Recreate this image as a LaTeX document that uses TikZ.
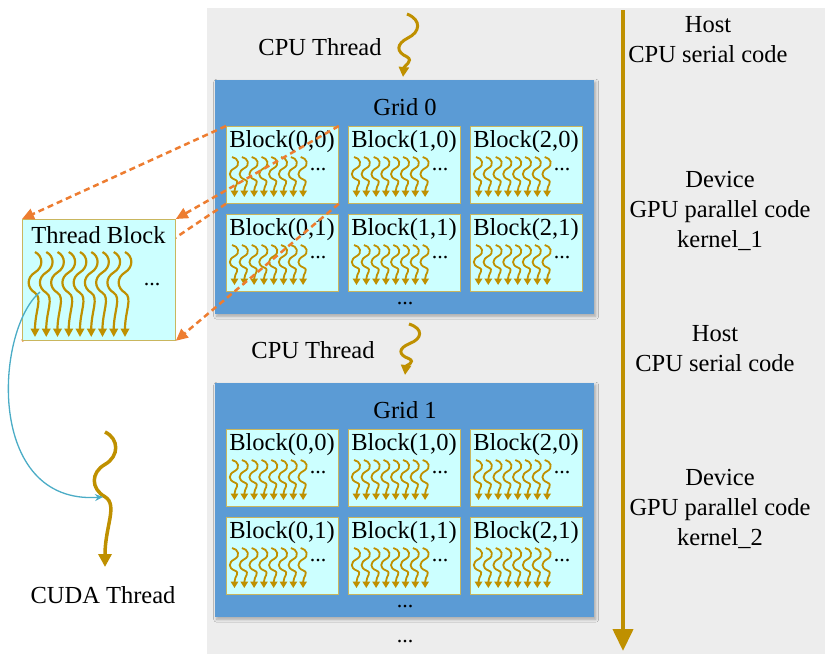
\documentclass[tikz,border=0pt]{standalone}
\usepackage{fontspec}
\setmainfont{Liberation Serif}
\usetikzlibrary{arrows.meta,shadows.blur}
\definecolor{bggray}{HTML}{EDEDED}
\definecolor{gridblue}{HTML}{5B9BD5}
\definecolor{cellcyan}{HTML}{CCFFFF}
\definecolor{cellborder}{HTML}{C9B65E}
\definecolor{threadgold}{RGB}{191,144,0}
\definecolor{orng}{HTML}{ED7D31}
\definecolor{curvecyan}{HTML}{4BACC6}
\newcommand\txtsize{\fontsize{24.5}{30}\selectfont}
% wavy thread: x, y (top), amplitude, height, line width, tip size
\newcommand\wthr[6]{%
  \begin{scope}[shift={(#1,#2)},xscale=#3,yscale=#4]
    \draw[threadgold,line width=#5pt,-{Triangle[length=#6pt,width=#6pt]}]
      (0,0) .. controls (1.3,0.05) and (1.3,0.18) .. (0,0.24)
            .. controls (-1.3,0.30) and (-1.3,0.42) .. (0,0.48)
            .. controls (1.2,0.54) and (0,0.7) .. (0,1);
  \end{scope}}
% small thread inside a block: x, y (top)
\newcommand\bthr[2]{%
  \begin{scope}[shift={(#1,#2)},xscale=4.8,yscale=40]
    \draw[threadgold,line width=1.8pt,-{Triangle[length=6.5pt,width=7.5pt]}]
      (-0.5,0) .. controls (0.8,0.03) and (1.3,0.2) .. (0,0.28)
            .. controls (-1.3,0.36) and (-1.3,0.5) .. (0,0.56)
            .. controls (1.3,0.62) and (0,0.7) .. (0,1);
  \end{scope}}
% CPU thread squiggle: x, y (top), height
\newcommand\cputhr[3]{%
  \begin{scope}[shift={(#1,#2)},xscale=10,yscale=#3]
    \draw[threadgold,line width=3pt,-{Triangle[length=10pt,width=10pt]}]
      (0,0) .. controls (1.5,0.095) and (1.3,0.29) .. (0.1,0.38)
            .. controls (-1.1,0.476) and (-1.1,0.603) .. (0,0.68)
            .. controls (0.7,0.745) and (-0.3,0.825) .. (-0.4,1);
  \end{scope}}
\tikzset{
  lbl/.style={font=\txtsize,inner sep=0pt,align=center},
  dots/.style={font=\fontsize{22}{22}\selectfont,inner sep=0pt},
  gridbox/.style={fill=gridblue,draw=none,minimum width=379pt,minimum height=234pt,inner sep=0pt,
    blur shadow={shadow xshift=1.5pt,shadow yshift=-2pt,shadow blur radius=3pt,shadow opacity=30}},
  cell/.style={fill=cellcyan,draw=cellborder,line width=0.8pt,minimum width=112pt,minimum height=77pt,inner sep=0pt},
  tbbox/.style={fill=cellcyan,draw=cellborder,line width=0.8pt,minimum width=153pt,minimum height=121pt,inner sep=0pt},
  odash/.style={orng,line width=2.5pt,dash pattern=on 6pt off 4pt},
  otip/.style={-{Triangle[length=12pt,width=11pt]}},
}
\begin{document}
\begin{tikzpicture}[x=1pt,y=-1pt]
\useasboundingbox (0,0) rectangle (825,654);
% background band
\fill[bggray] (207,8) rectangle (825,654);
% time arrow
\coordinate (ttop) at (623,10);
\coordinate (tbot) at (623,651);
\draw[threadgold,line width=4pt,-{Triangle[length=22pt,width=20pt]}] (ttop) -- (tbot);
% right labels
\node[lbl,anchor=north] (host1) at (708,16.3) {Host\\CPU serial code};
\node[lbl,anchor=north] (dev1) at (720,171.3) {Device\\GPU parallel code\\kernel\_1};
\node[lbl,anchor=north] (host2) at (715,325.3) {Host\\CPU serial code};
\node[lbl,anchor=north] (dev2) at (720,469.3) {Device\\GPU parallel code\\kernel\_2};
% CPU threads
\node[lbl,anchor=base] (cpu1) at (320,55) {CPU Thread};
\cputhr{407}{14}{63}
\node[lbl,anchor=base] (cpu2) at (313,358) {CPU Thread};
\cputhr{409}{324}{51}
% grids
\foreach \g/\gy in {0/80,1/383}{
  \node[gridbox,anchor=north west] (grid\g) at (215,\gy) {};
  \node[lbl,anchor=base] (gridlbl\g) at (405,\gy+35) {Grid \g};
  \node[dots] (griddots\g) at (405,\gy+224) {...};
  \foreach \i/\bx in {0/226,1/348,2/470}{
    \foreach \j/\by in {0/46,1/134}{
      \node[cell,anchor=north west] (b\g\i\j) at (\bx,\gy+\by) {};
      \node[lbl,anchor=base] (bl\g\i\j) at (\bx+56,\gy+\by+21) {Block(\i,\j)};
      \foreach \k in {0,...,7}{\bthr{\bx+8.5+9.8*\k}{\gy+\by+31}}
      \node[dots] (bd\g\i\j) at (\bx+92,\gy+\by+44) {...};
    }
  }
}
\node[dots] (moredots) at (405,642) {...};
% thread block (geometry first, hidden edge line, then box)
\node[tbbox,draw=none,fill=none,anchor=north west] (tb) at (22,219) {};
\draw[odash] (b000.south west) -- (tb.south west);
\node[tbbox,anchor=north west] (tb) at (22,219) {};
\node[lbl,anchor=base] (tblbl) at (98.5,243) {Thread Block};
\foreach \k in {0,...,8}{\wthr{35+11.25*\k}{252}{6.5}{85}{2.2}{8.5}}
\node[dots] (tbdots) at (152,285) {...};
% projection lines
\draw[odash,otip] (b000.north west) -- (tb.north west);
\draw[odash,otip] (b000.north east) -- (tb.north east);
\draw[odash,otip] (b000.south east) -- (tb.south east);
% CUDA thread
\wthr{105}{432}{11}{135}{3.5}{13}
\node[lbl,anchor=base] (cudalbl) at (103,603) {CUDA Thread};
\coordinate (tbthr) at (40,292);
\coordinate (cudahit) at (103,497);
\draw[curvecyan,line width=1.3pt,-{Stealth[length=8pt,width=7pt]}] (tbthr) .. controls (-5,330) and (-15,505) .. (cudahit);
\end{tikzpicture}
\end{document}
